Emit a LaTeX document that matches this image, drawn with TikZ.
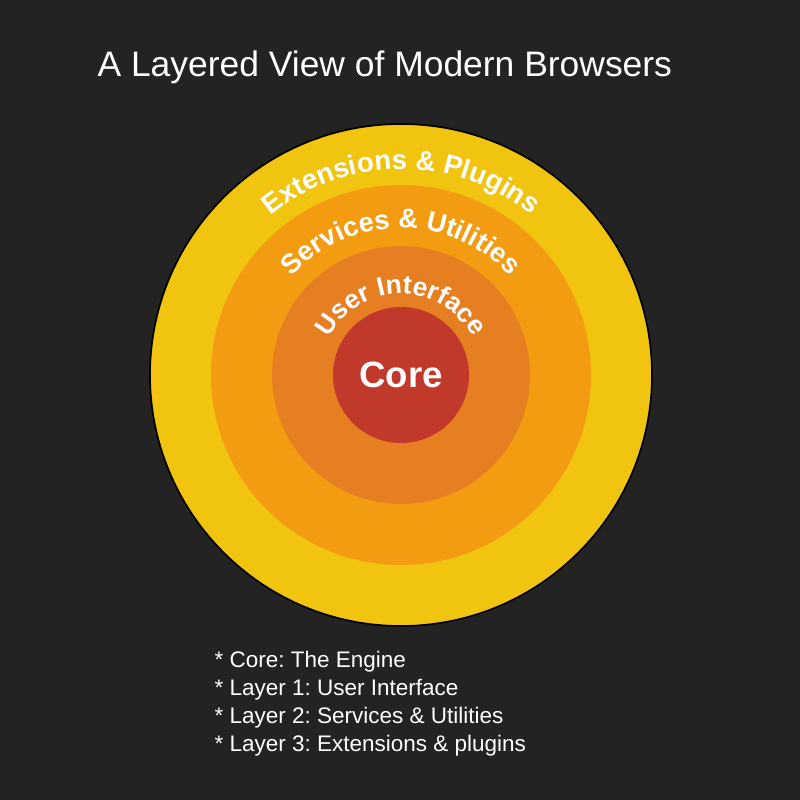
\documentclass[tikz,border=0pt]{standalone}
\usepackage{fontspec}
\setmainfont{Liberation Sans}
\usetikzlibrary{decorations.text}
\definecolor{bgdark}{HTML}{232323}
\definecolor{extyellow}{HTML}{F1C40F}
\definecolor{svcorange}{HTML}{F39C12}
\definecolor{uiorange}{HTML}{E67E22}
\definecolor{corered}{HTML}{C0392B}
\newcommand\arcfont[1]{\bfseries\fontsize{#1}{#1}\selectfont\color{white}}
\frenchspacing
\begin{document}
\begin{tikzpicture}[x=0.0125cm,y=0.0125cm,
  ring/.style={fill=#1},
  arclabel/.style={decorate,decoration={text along path,text align=center,
    text format delimiters={|}{|},text={#1}}}]
\fill[bgdark] (0,0) rectangle (800,800);
\coordinate (c) at (401,425);
% title
\node[anchor=base west,text=white,font=\fontsize{12.6}{14}\selectfont,inner sep=0pt] (title) at (97,724) {A Layered View of Modern Browsers};
% rings, outside in
\draw[ring=extyellow,draw=black,line width=0.6pt] (c) circle[radius=251];
\fill[ring=svcorange] (c) circle[radius=190];
\fill[ring=uiorange] (c) circle[radius=129];
\fill[ring=corered] (c) circle[radius=68];
% curved labels
\path[arclabel={|\arcfont{9.8}|Extensions {\&} Plugins}] (c) ++(180:206) arc[start angle=180,end angle=0,radius=206];
\path[arclabel={|\arcfont{9.7}|Services {\&} Utilities}] (c) ++(180:147) arc[start angle=180,end angle=0,radius=147];
\path[arclabel={|\arcfont{9.4}|User Interface}] (c) ++(180:81) arc[start angle=180,end angle=0,radius=81];
\node[text=white,font=\bfseries\fontsize{13}{15}\selectfont] (core) at (c) {Core};
% legend
\node[anchor=north west,align=left,text=white,inner sep=0pt,
  font=\fontsize{8}{9.9}\selectfont] (legend) at (214,149) {%
  * Core: The Engine\\
  * Layer 1: User Interface\\
  * Layer 2: Services \& Utilities\\
  * Layer 3: Extensions \& plugins};
\end{tikzpicture}
\end{document}
